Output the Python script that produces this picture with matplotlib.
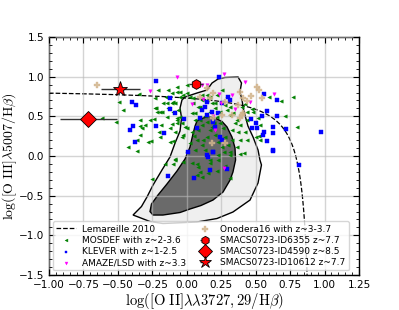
import numpy as np
import matplotlib
matplotlib.use("Agg")
import matplotlib.pyplot as plt
from matplotlib.ticker import MultipleLocator

plt.rcParams['mathtext.fontset'] = 'cm'

# ---------------- data ----------------
# Lemareille et al. 2010 demarcation: y = a/(x - b) + c
lem_a, lem_b, lem_c = 0.11, 0.92, 0.85

# SDSS-like density contours (outer / inner)
outer_x = [-0.013, 0.074, 0.147, 0.183, 0.227, 0.277, 0.372, 0.397, 0.386, 0.401,
           0.412, 0.444, 0.481, 0.517, 0.531, 0.542, 0.517, 0.459, 0.335, 0.219,
           0.074, -0.173, -0.267, -0.361, -0.390, -0.329, -0.289, -0.245, -0.180,
           -0.122, -0.085, -0.049, -0.038, -0.049, -0.035]
outer_y = [0.744, 0.794, 0.832, 0.920, 0.971, 0.990, 0.996, 0.920, 0.807, 0.706,
           0.580, 0.378, 0.239, 0.076, -0.050, -0.113, -0.340, -0.555, -0.706, -0.788,
           -0.832, -0.851, -0.826, -0.763, -0.744, -0.637, -0.517, -0.366, -0.176,
           -0.013, 0.164, 0.315, 0.479, 0.605, 0.706]
inner_x = [0.074, 0.118, 0.161, 0.205, 0.256, 0.292, 0.328, 0.350, 0.354, 0.335,
           0.314, 0.263, 0.190, 0.103, 0.023, -0.049, -0.173, -0.245, -0.267, -0.256,
           -0.209, -0.144, -0.071, -0.013, 0.023, 0.045, 0.060]
inner_y = [0.441, 0.479, 0.498, 0.479, 0.435, 0.366, 0.239, 0.101, -0.050, -0.202,
           -0.303, -0.454, -0.555, -0.624, -0.668, -0.712, -0.744, -0.744, -0.700, -0.605,
           -0.492, -0.353, -0.189, -0.038, 0.113, 0.277, 0.378]

mosdef_x = [-0.345, -0.494, -0.461, -0.613, -0.516, -0.342, -0.340, -0.337, -0.260, -0.429,
            -0.361, -0.207, -0.231, -0.223, -0.194, -0.187, -0.202, -0.194, -0.151, -0.141,
            -0.134, -0.110, -0.085, -0.073, -0.141, -0.110, -0.073, -0.098, -0.085, -0.158,
            -0.062, -0.073, -0.255, -0.098, -0.122,
            -0.073, -0.049, 0.000, -0.025, -0.231, -0.218, -0.182, -0.267, -0.238, -0.098,
            -0.049, -0.037, -0.085, -0.037, 0.000, 0.036, 0.023, 0.072, 0.060, 0.108,
            0.132, 0.145, 0.108, 0.060, 0.084, 0.108, 0.145, 0.181, 0.169, 0.205,
            0.217, 0.241, 0.265, 0.277, 0.301, 0.314, 0.326, 0.362, 0.338, 0.386,
            0.423, 0.386, 0.362, 0.435, 0.217, 0.290, 0.253, 0.023, 0.047, -0.170,
            -0.134, -0.110, -0.327, -0.364, -0.279, -0.303, -0.122, -0.085, -0.025, 0.084,
            0.169, 0.229, 0.096, 0.145, 0.181, 0.205, 0.229, 0.253, 0.169, 0.314,
            0.290, 0.398, 0.483, 0.531,
            0.072, 0.169, 0.229, 0.314, 0.386, 0.415, 0.096, 0.156, 0.217, 0.277,
            0.314, 0.108, 0.036, 0.076,
            0.597, 0.682, 0.773, 0.423, 0.471, 0.435, 0.519, 0.439, 0.713, 0.802,
            0.524, 0.500, 0.531,
            -0.098, -0.073, -0.013, -0.025, 0.036, 0.060, 0.084, 0.096, 0.145, 0.205,
            0.241, 0.277, 0.314, 0.350, 0.374, -0.049, 0.000, 0.108, 0.047, 0.169,
            0.130, 0.200, 0.050, 0.120, 0.270, 0.330, 0.000]
mosdef_y = [0.778, 0.685, 0.580, 0.475, 0.425, 0.450, 0.378, 0.261, 0.185, 0.110,
            0.059, 0.828, 0.727, 0.609, 0.551, 0.391, 0.307, 0.244, 0.748, 0.672,
            0.609, 0.664, 0.672, 0.810, 0.488, 0.403, 0.412, 0.189, -0.042, -0.105,
            0.580, 0.475, -0.290, -0.100, 0.350,
            0.874, 0.810, 0.895, 0.769, 0.601, 0.559, 0.559, 0.454, 0.462, 0.559,
            0.496, 0.412, 0.307, 0.244, 0.349, 0.307, 0.160, 0.202, 0.076, 0.139,
            0.076, 0.244, 0.391, 0.538, 0.622, 0.706, 0.769, 0.664, 0.559, 0.601,
            0.496, 0.412, 0.349, 0.244, 0.139, 0.054, 0.328, 0.454, 0.538, 0.391,
            0.307, 0.202, 0.118, 0.202, 0.769, 0.748, 0.832, 0.748, 0.664, 0.664,
            0.832, 0.790, 0.349, 0.202, 0.180, 0.391, 0.180, -0.050, -0.072, -0.135,
            -0.050, 0.013, 0.454, 0.433, 0.370, 0.265, 0.180, 0.118, 0.328, 0.622,
            0.580, 0.622, 0.559, 0.391,
            -0.100, -0.092, -0.050, 0.013, 0.025, 0.034, -0.198, -0.218, -0.185, -0.126,
            -0.281, -0.260, -0.092, -0.240,
            0.748, 0.697, 0.748, 0.652, 0.589, 0.559, 0.475, 0.454, 0.504, 0.362,
            0.252, 0.244, 0.202,
            0.685, 0.454, 0.370, 0.265, 0.538, 0.454, 0.328, 0.622, 0.706, 0.664,
            0.559, 0.643, 0.517, 0.412, 0.307, 0.748, 0.790, 0.769, 0.727, 0.748,
            0.500, 0.420, 0.250, 0.200, 0.050, 0.200, 0.050]

klever_x = [-0.223, -0.400, -0.371, -0.393, -0.412, -0.374, -0.226, -0.165, -0.122, -0.122,
            -0.085, -0.134, 0.011, 0.052, 0.156, 0.193, 0.294, 0.817, 0.628, 0.561,
            0.653, 0.580, 0.544, 0.466, 0.657, 0.502, 0.471, 0.512, 0.563, 0.551,
            0.628, 0.624, 0.720, 0.974, 0.584, 0.624, 0.234, 0.301, 0.314, 0.253,
            0.132, 0.181, 0.108, 0.145, 0.193, 0.241, 0.253, 0.205, 0.188, 0.149,
            0.096, -0.020, 0.072, 0.149, 0.229, 0.169]
klever_y = [0.945, 0.685, 0.639, 0.382, 0.324, 0.176, 0.374, 0.294, 0.735, 0.589,
            0.546, -0.252, 0.054, -0.281, -0.017, 0.054, -0.168, -0.113, 0.063, 0.778,
            0.706, 0.567, 0.504, 0.462, 0.508, 0.412, 0.357, 0.349, 0.307, 0.265,
            0.370, 0.286, 0.340, 0.307, 0.193, 0.076, 0.992, 0.748, 0.706, 0.664,
            0.622, 0.559, 0.580, 0.517, 0.433, 0.244, 0.202, 0.362, 0.054, 0.013,
            0.475, 0.462, 0.349, 0.685, 0.538, -0.176]

amaze_x = [-0.267, -0.069, 0.425, 0.633, 0.459, 0.270, 0.120, 0.108, 0.036, 0.248,
           0.350, 0.272, 0.205, 0.145, 0.236, 0.193, 0.326]
amaze_y = [0.820, 1.000, 0.937, 0.781, 0.677, 1.034, 0.715, 0.895, 0.655, 0.672,
           0.589, -0.155, 0.328, 0.895, 0.781, 0.504, 0.769]

onodera_x = [-0.654, 0.145, 0.193, 0.096, 0.169, 0.277, 0.253, 0.193, 0.326, 0.399,
             0.386, 0.181, 0.277, 0.512, 0.527, 0.464, 0.544, 0.406, 0.435, 0.410,
             0.386, 0.372]
onodera_y = [0.895, 0.853, 0.790, 0.748, 0.727, 0.685, 0.517, 0.475, 0.517, 0.517,
             0.475, 0.160, 0.160, 0.874, 0.832, 0.756, 0.727, 0.727, 0.697, 0.538,
             0.810, 0.643]

# SMACS0723 objects: x, y, xerr
id6355 = (0.065, 0.904, 0.05)
id4590 = (-0.715, 0.466, 0.205)
id10612 = (-0.482, 0.841, 0.14)

xticks = [-1.00, -0.75, -0.50, -0.25, 0.00, 0.25, 0.50, 0.75, 1.00, 1.25]
yticks = [-1.5, -1.0, -0.5, 0.0, 0.5, 1.0, 1.5]

# ---------------- plot ----------------
fig = plt.figure(figsize=(3.99, 3.10), dpi=100)
ax = fig.add_axes([0.1228, 0.1129, 0.777, 0.7677])

ax.grid(True, color='#b8b8b8', alpha=0.6, lw=1.0, zorder=0.6)
ax.set_axisbelow(False)

ax.fill(outer_x, outer_y, facecolor='#efefef', edgecolor='k', lw=1.0, zorder=0.3)
ax.fill(inner_x, inner_y, facecolor='#6a6a6a', edgecolor='k', lw=1.0, zorder=0.4)

xl = np.linspace(-1.0, lem_b + lem_a / (-1.5 - lem_c), 300)
ax.plot(xl, lem_a / (xl - lem_b) + lem_c, 'k--', lw=0.9, label='Lemareille 2010', zorder=2)

ax.scatter(mosdef_x, mosdef_y, marker='<', s=6, color='green', lw=0.3,
           label='MOSDEF with z~2-3.6', zorder=3)
ax.scatter(klever_x, klever_y, marker='s', s=5, color='blue', lw=0.3,
           label='KLEVER with z~1-2.5', zorder=3)
ax.scatter(amaze_x, amaze_y, marker='v', s=6, color='magenta', lw=0.3,
           label='AMAZE/LSD with z~3.3', zorder=3)
ax.scatter(onodera_x, onodera_y, marker='P', s=18, color='tan', lw=0.3, alpha=0.85,
           label='Onodera16 with z~3-3.7', zorder=3)

ax.errorbar(id6355[0], id6355[1], xerr=id6355[2], fmt='h', ms=7, mfc='red', mec='k',
            mew=0.6, ecolor='#333333', elinewidth=1, capsize=0,
            label='SMACS0723-ID6355 z~7.7', zorder=5)
ax.errorbar(id4590[0], id4590[1], xerr=id4590[2], fmt='D', ms=8, mfc='red', mec='k',
            mew=0.6, ecolor='#333333', elinewidth=1, capsize=0,
            label='SMACS0723-ID4590 z~8.5', zorder=5)
ax.errorbar(id10612[0], id10612[1], xerr=id10612[2], fmt='*', ms=11, mfc='red', mec='k',
            mew=0.6, ecolor='#333333', elinewidth=1, capsize=0,
            label='SMACS0723-ID10612 z~7.7', zorder=5)

ax.set_xlim(-1.0, 1.25)
ax.set_ylim(-1.5, 1.5)
ax.set_xticks(xticks)
ax.set_yticks(yticks)
ax.set_xticklabels([f'{t:.2f}'.replace('-', '\u2212') for t in xticks])
ax.set_yticklabels([f'{t:.1f}'.replace('-', '\u2212') for t in yticks])
ax.xaxis.set_minor_locator(MultipleLocator(0.05))
ax.yaxis.set_minor_locator(MultipleLocator(0.1))
ax.tick_params(which='both', direction='in', top=True, right=True, labelsize=7.5)
ax.tick_params(which='major', length=4, width=0.8)
ax.tick_params(which='minor', length=2, width=0.6)
for s in ax.spines.values():
    s.set_color('k')
    s.set_linewidth(1.0)

ax.set_xlabel(r'$\log([{\rm O\ II}]\lambda\lambda3727,29/{\rm H}\beta)$', fontsize=10.5, labelpad=1)
ax.set_ylabel(r'$\log([{\rm O\ III}]\lambda5007/{\rm H}\beta)$', fontsize=10)
ax.yaxis.set_label_coords(-0.097, 0.5)

leg = ax.legend(loc='lower center', ncol=2, fontsize=6.5, scatterpoints=1, labelspacing=0.25,
                handlelength=2.2, columnspacing=1.0, borderpad=0.35, handletextpad=0.6,
                markerscale=0.85, framealpha=0.8, bbox_to_anchor=(0.49, 0.0))

fig.savefig('out.png', dpi=100)
